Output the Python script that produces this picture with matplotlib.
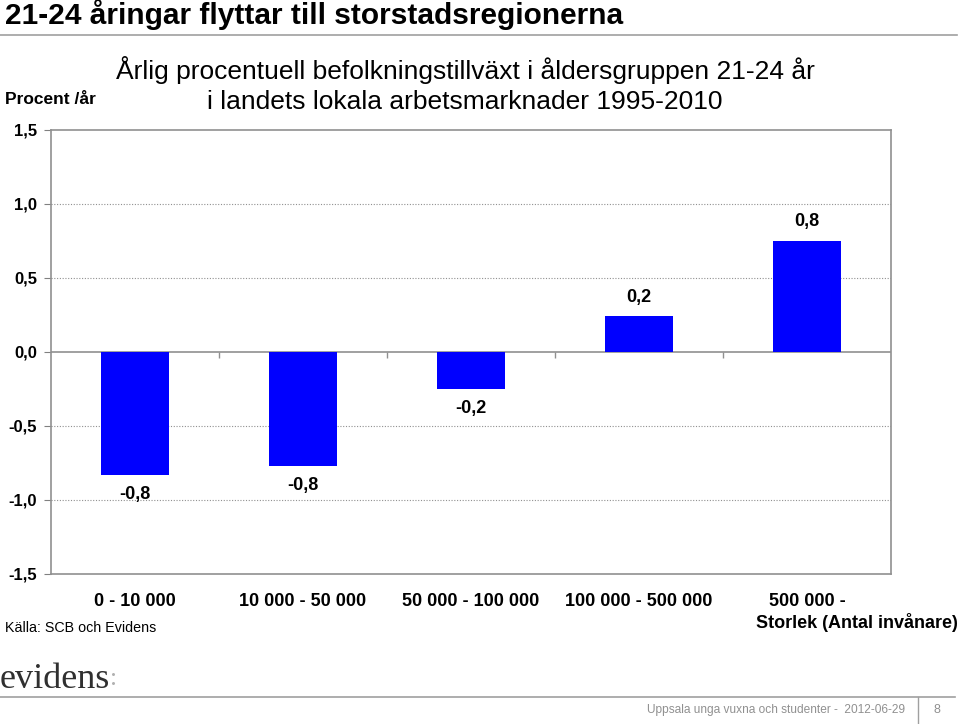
import matplotlib
matplotlib.use("Agg")
import matplotlib.pyplot as plt
from matplotlib.lines import Line2D

categories = ["0 - 10 000", "10 000 - 50 000", "50 000 - 100 000", "100 000 - 500 000", "500 000 -"]
values = [-0.83, -0.77, -0.25, 0.24, 0.75]
yticks = [-1.5, -1.0, -0.5, 0.0, 0.5, 1.0, 1.5]

FONT = "Liberation Sans"
plt.rcParams['font.family'] = [FONT, 'DejaVu Sans']

fig = plt.figure(figsize=(9.6, 7.24), dpi=100)
W, H = 960, 724
def fx(x): return x / W
def fy(y): return 1 - y / H

ax = fig.add_axes([fx(51), fy(574), fx(891) - fx(51), fy(130) - fy(574)])
x = list(range(len(categories)))
ax.bar(x, values, width=0.4, color="#0000FF", zorder=3)
ax.set_xlim(-0.5, len(categories) - 0.5)
ax.set_ylim(-1.5, 1.5)
ax.set_yticks(yticks)
ax.set_yticklabels([f"{v:.1f}".replace(".", ",") for v in yticks], fontweight="bold", fontsize=12)
ax.tick_params(axis="y", length=5, color="#808080", pad=5)
ax.set_xticks(x)
ax.set_xticklabels(categories, fontweight="bold", fontsize=13)
ax.tick_params(axis="x", length=0, pad=14)
for s in ax.spines.values():
    s.set_color("#909090")
    s.set_linewidth(1.2)
for v in [-1.0, -0.5, 0.5, 1.0]:
    ax.axhline(v, color="#909090", linestyle=(0, (1, 1.5)), linewidth=0.8, zorder=1)
ax.axhline(0, color="#909090", linewidth=1.2, zorder=2)
ax.plot([i + 0.5 for i in range(len(categories) - 1)], [0] * (len(categories) - 1),
        linestyle="none", marker=3, markersize=4, color="#909090", markeredgewidth=1, zorder=2)

for xi, v in zip(x, values):
    off = 14 if v > 0 else -14
    ax.annotate(f"{v:.1f}".replace(".", ","), (xi, v), xytext=(0, off), textcoords="offset points",
                ha="center", va="center", fontweight="bold", fontsize=13)

fig.text(fx(5), fy(15), "21-24 åringar flyttar till storstadsregionerna", fontsize=21.5, fontweight="bold",
         ha="left", va="center")
fig.add_artist(Line2D([0, fx(957)], [fy(35), fy(35)], color="#a0a0a0", linewidth=1.2))
fig.text(fx(465), fy(70), "Årlig procentuell befolkningstillväxt i åldersgruppen 21-24 år", fontsize=19,
         ha="center", va="center")
fig.text(fx(465), fy(102), "i landets lokala arbetsmarknader 1995-2010", fontsize=19,
         ha="center", va="center")
fig.text(fx(5), fy(100), "Procent /år", fontsize=12.5, fontweight="bold", ha="left", va="center")
fig.text(fx(958), fy(622), "Storlek (Antal invånare)", fontsize=13, fontweight="bold", ha="right", va="center")
fig.text(fx(5), fy(628), "Källa: SCB och Evidens", fontsize=10.3, ha="left", va="center")
fig.text(fx(0), fy(679), "evidens", fontsize=26, family="Liberation Serif", color="#303030",
         ha="left", va="center")
fig.text(fx(110), fy(679), ":", fontsize=18, family="Liberation Serif", color="#b0b0b0",
         ha="left", va="center")
fig.add_artist(Line2D([0, fx(955)], [fy(697), fy(697)], color="#a0a0a0", linewidth=1.2))
fig.add_artist(Line2D([fx(918), fx(918)], [fy(697), 0], color="#a0a0a0", linewidth=1.0))
fig.text(fx(905), fy(710), "Uppsala unga vuxna och studenter -  2012-06-29", fontsize=8.6, color="#909090",
         ha="right", va="center")
fig.text(fx(937), fy(710), "8", fontsize=9, color="#909090", ha="center", va="center")

fig.savefig("out.png", dpi=100)
